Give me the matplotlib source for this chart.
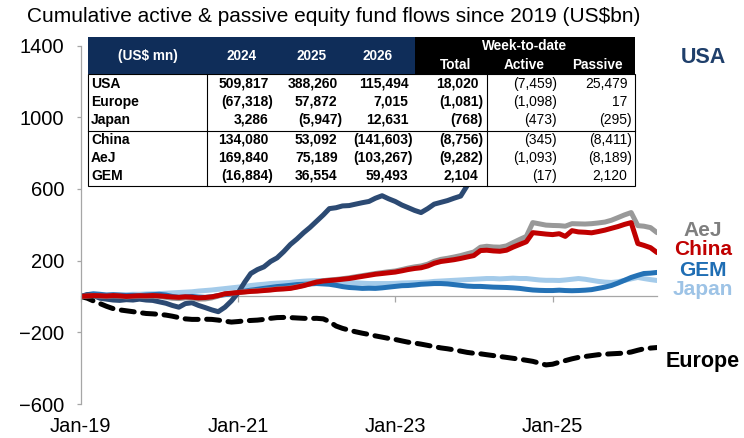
import matplotlib
matplotlib.use("Agg")
import matplotlib.pyplot as plt
import matplotlib.dates as mdates
from matplotlib import font_manager
from matplotlib.patches import Rectangle
from matplotlib.lines import Line2D
import pandas as pd

# ---------------- data ----------------
dates = pd.date_range("2019-01-01", periods=89, freq="MS")

usa = [0, 10, 5, -10, -15, -20, -22, -18, -20, -15, -20, -22, -30, -38, -50, -60, -40, -35,
       -50, -62, -75, -85, -60, -25, 20, 80, 128, 150, 165, 195, 215, 250, 290, 320, 355, 385,
       420, 455, 490, 495, 505, 507, 515, 523, 530, 548, 562, 545, 530, 510, 496, 480, 468, 490,
       515, 525, 535, 548, 560, 618, 660, 700, 745, 780, 815, 860, 905, 940, 985, 1035, 1075, 1115,
       1160, 1190, 1225, 1250, 1290, 1320, 1355, 1380, 1410, 1445, 1480, 1515, 1550, 1580, 1610, 1640, 1665]

europe = [0, -10, -25, -40, -55, -68, -75, -80, -85, -90, -95, -97, -100, -104, -110, -118, -125, -128,
          -128, -127, -128, -132, -138, -143, -140, -136, -134, -132, -128, -122, -118, -117, -118, -120,
          -122, -123, -122, -125, -140, -165, -178, -188, -197, -205, -212, -220, -227, -234, -240, -248,
          -255, -260, -266, -273, -280, -287, -292, -298, -305, -312, -317, -320, -325, -330, -335, -340,
          -345, -350, -356, -362, -372, -382, -378, -367, -358, -348, -340, -335, -330, -325, -322, -320,
          -318, -316, -310, -300, -292, -288, -285]

japan = [0, 2, 4, 5, 6, 8, 8, 10, 12, 12, 14, 15, 16, 18, 20, 22, 24, 26, 30, 33, 36, 40, 44, 48,
         52, 56, 61, 65, 68, 72, 74, 76, 78, 82, 85, 87, 88, 89, 88, 85, 80, 78, 76, 74, 72, 72, 72,
         72, 73, 75, 76, 77, 78, 80, 84, 86, 88, 90, 92, 94, 96, 98, 100, 100, 98, 100, 102, 100, 100,
         96, 92, 90, 90, 89, 92, 96, 100, 96, 90, 84, 80, 78, 82, 90, 98, 106, 100, 94, 89]

china = [0, 3, 5, 4, 2, 5, 3, 0, 2, 4, 3, 5, 3, 0, -3, -5, -2, -4, -8, -6, -2, 5, 15, 18, 22, 25,
         28, 30, 33, 36, 40, 42, 45, 52, 60, 70, 80, 86, 89, 92, 96, 100, 106, 112, 118, 124, 128,
         132, 136, 143, 150, 156, 160, 170, 185, 195, 200, 205, 212, 220, 228, 256, 258, 254, 252,
         258, 275, 290, 305, 356, 352, 348, 345, 350, 335, 367, 360, 358, 355, 362, 370, 380, 390,
         402, 412, 295, 285, 272, 245]

aej = [0, 2, 4, 2, 0, 3, 1, -2, 0, 2, 0, 2, 0, -5, -10, -12, -8, -10, -15, -14, -8, 2, 14, 18, 22,
       26, 30, 32, 35, 38, 42, 44, 47, 54, 62, 72, 82, 88, 92, 95, 99, 104, 110, 116, 122, 128, 133,
       138, 142, 150, 158, 165, 170, 180, 196, 207, 213, 220, 228, 238, 248, 275, 280, 276, 275, 282,
       300, 318, 335, 412, 405, 398, 396, 395, 392, 406, 405, 404, 406, 410, 415, 425, 440, 455, 468,
       395, 392, 384, 356]

gem = [0, 10, 15, 12, 8, 10, 8, 5, 6, 5, 8, 10, 12, 8, 0, -5, -2, 0, -3, -5, -2, 5, 10, 15, 22, 30,
       35, 40, 45, 50, 55, 58, 62, 66, 68, 70, 72, 70, 68, 62, 55, 50, 48, 45, 46, 45, 48, 52, 56, 60,
       61, 64, 68, 70, 72, 72, 70, 66, 62, 58, 56, 56, 54, 52, 51, 50, 48, 45, 40, 36, 34, 33, 33, 35,
       33, 32, 33, 35, 38, 45, 52, 61, 75, 90, 106, 118, 128, 130, 134]

series_names = ["Japan", "GEM", "USA", "Europe", "AeJ", "China"]

x_tick_dates = ["2019-01-01", "2021-01-01", "2023-01-01", "2025-01-01"]
y_ticks = [-600, -200, 200, 600, 1000, 1400]

table_header = ["(US$ mn)", "2024", "2025", "2026"]
wtd_header = ["Total", "Active", "Passive"]
table_rows = ["USA", "Europe", "Japan", "China", "AeJ", "GEM"]
col_2024 = [509817, -67318, 3286, 134080, 169840, -16884]
col_2025 = [388260, 57872, -5947, 53092, 75189, 36554]
col_2026 = [115494, 7015, 12631, -141603, -103267, 59493]
wtd_total = [18020, -1081, -768, -8756, -9282, 2104]
wtd_active = [-7459, -1098, -473, -345, -1093, -17]
wtd_passive = [25479, 17, -295, -8411, -8189, 2120]

title = "Cumulative active & passive equity fund flows since 2019 (US$bn)"

# ---------------- styling ----------------
names = {f.name for f in font_manager.fontManager.ttflist}
BASE = "Liberation Sans" if "Liberation Sans" in names else "DejaVu Sans"
plt.rcParams["font.family"] = [BASE, "DejaVu Sans"]

colors = {"USA": "#2C4A73", "Europe": "#000000", "Japan": "#A4CBEA", "China": "#C00000",
          "AeJ": "#999999", "GEM": "#2472B6"}
label_colors = {"USA": "#1F3F6B", "Europe": "#000000", "Japan": "#9DC3E6", "China": "#C00000",
                "AeJ": "#7F7F7F", "GEM": "#1F6EB4"}
data = {"USA": usa, "Europe": europe, "Japan": japan, "China": china, "AeJ": aej, "GEM": gem}

W, H = 744, 438
fig = plt.figure(figsize=(W / 100, H / 100), dpi=100)

def fx(x):
    return x / W

def fy(y):
    return 1 - y / H

ax_l, ax_r, ax_t, ax_b = 80.7, 657, 45.5, 404
ax = fig.add_axes([fx(ax_l), fy(ax_b), fx(ax_r) - fx(ax_l), fy(ax_t) - fy(ax_b)])

for name in series_names:
    kw = dict(color=colors[name], lw=3.6, solid_capstyle="round", solid_joinstyle="round")
    if name == "Europe":
        kw.update(ls=(0, (2.6, 1.7)), dash_capstyle="round")
    ax.plot(dates, data[name], **kw)

ax.set_ylim(-600, 1400)
ax.set_xlim(dates[0], dates[-1])
ax.set_yticks(y_ticks)
ax.set_xticks(pd.to_datetime(x_tick_dates))
ax.xaxis.set_major_formatter(mdates.DateFormatter("%b-%y"))
for s in ["top", "right"]:
    ax.spines[s].set_visible(False)
ax.spines["left"].set_color("#A6A6A6")
ax.spines["left"].set_linewidth(0.9)
ax.spines["bottom"].set_position(("data", 0))
ax.spines["bottom"].set_color("#A6A6A6")
ax.spines["bottom"].set_linewidth(0.9)
ax.spines["bottom"].set_zorder(0.5)
ax.tick_params(axis="y", length=3, color="#A6A6A6", width=0.9, pad=9, labelsize=14.5)
ax.tick_params(axis="x", length=4, color="#A6A6A6", width=0.9, pad=83, labelsize=14.5)
ax.patch.set_alpha(0)

fig.text(fx(27), fy(17), title, fontsize=15, va="center", ha="left")

# series labels
lab_pos = {"USA": (63, 15.5), "AeJ": (236, 15), "China": (255, 15), "GEM": (275.5, 15),
           "Japan": (295, 15), "Europe": (367, 15.5)}
for name, (yb, fs) in lab_pos.items():
    fig.text(fx(703), fy(yb), name, fontsize=fs, fontweight="bold", color=label_colors[name],
             ha="center", va="baseline")

# ---------------- table ----------------
tl, tr, tt, th, tb = 88, 635, 37, 74, 186
split = 415
Z = 10
fig.add_artist(Rectangle((fx(tl), fy(tb)), fx(tr) - fx(tl), fy(th) - fy(tb), transform=fig.transFigure,
                         facecolor="white", edgecolor="black", lw=0.8, zorder=Z))
fig.add_artist(Rectangle((fx(tl), fy(th)), fx(split) - fx(tl), fy(tt) - fy(th), transform=fig.transFigure,
                         facecolor="#0F2D59", edgecolor="none", zorder=Z))
fig.add_artist(Rectangle((fx(split), fy(th)), fx(tr) - fx(split), fy(tt) - fy(th), transform=fig.transFigure,
                         facecolor="#000000", edgecolor="none", zorder=Z))
for xv in (207, 487):
    fig.add_artist(Line2D([fx(xv), fx(xv)], [fy(th), fy(tb)], transform=fig.transFigure,
                          color="black", lw=0.8, zorder=Z + 1))
fig.add_artist(Line2D([fx(tl), fx(tr)], [fy(131), fy(131)], transform=fig.transFigure,
                      color="black", lw=0.8, zorder=Z + 1))

TFS = 10
HFS = 9.8
hdr_x = [148, 242, 312, 378]
for txt, xv in zip(table_header, hdr_x):
    fig.text(fx(xv), fy(56), txt, color="white", fontsize=HFS, fontweight="bold",
             ha="center", va="center", zorder=Z + 2)
fig.text(fx(525), fy(46), "Week-to-date", color="white", fontsize=HFS, fontweight="bold",
         ha="center", va="center", zorder=Z + 2)
for txt, xv in zip(wtd_header, [456, 524, 597]):
    fig.text(fx(xv), fy(65), txt, color="white", fontsize=HFS, fontweight="bold",
             ha="center", va="center", zorder=Z + 2)

row_y = [84, 102, 120, 140, 158, 176]

def fmt(v):
    return f"({abs(v):,})" if v < 0 else f"{v:,}"

cols = [(col_2024, 273, "bold"), (col_2025, 342, "bold"), (col_2026, 413, "bold"),
        (wtd_total, 483, "bold"), (wtd_active, 557, "normal"), (wtd_passive, 632, "normal")]
for i, (rname, yv) in enumerate(zip(table_rows, row_y)):
    fig.text(fx(91), fy(yv), rname, fontsize=TFS, fontweight="bold", ha="left", va="center", zorder=Z + 2)
    for vals, xr, fw in cols:
        v = vals[i]
        xx = xr if v < 0 else xr - 4.5
        fig.text(fx(xx), fy(yv), fmt(v), fontsize=TFS, fontweight=fw, ha="right", va="center", zorder=Z + 2)

fig.savefig("out.png", dpi=100)
